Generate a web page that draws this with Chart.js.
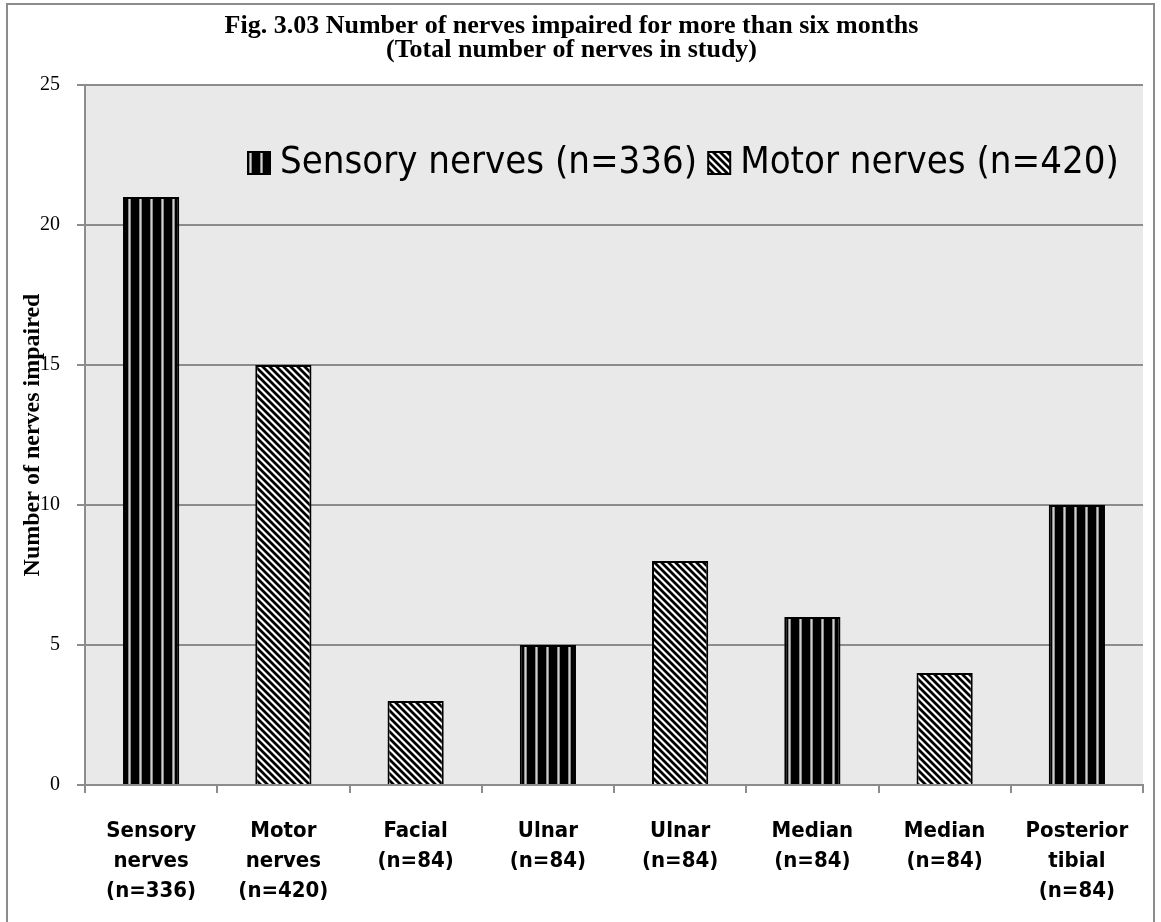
<!DOCTYPE html>
<html>
<head>
<meta charset="utf-8">
<script src="https://cdn.jsdelivr.net/npm/chart.js@4.4.0/dist/chart.umd.min.js"></script>
<style>
  html, body { margin: 0; padding: 0; background: #fff; }
</style>
</head>
<body>
<canvas id="grafico" width="1161" height="922"></canvas>
<script>
// Datos
const categorias = [
  ['Sensory', 'nerves', '(n=336)'],
  ['Motor', 'nerves', '(n=420)'],
  ['Facial', '(n=84)'],
  ['Ulnar', '(n=84)'],
  ['Ulnar', '(n=84)'],
  ['Median', '(n=84)'],
  ['Median', '(n=84)'],
  ['Posterior', 'tibial', '(n=84)']
];
const sensitivos = [21, null, null, 5, null, 6, null, 10];
const motores = [null, 15, 3, null, 8, null, 4, null];
const nombresSeries = ['Sensory nerves (n=336)', 'Motor nerves (n=420)'];
const ticksY = [0, 5, 10, 15, 20, 25];
const titulo = ['Fig. 3.03 Number of nerves impaired for more than six months', '(Total number of nerves in study)'];
const tituloY = 'Number of nerves impaired';

const serif = '"Liberation Serif", "Times New Roman", serif';
const sans = '"DejaVu Sans Condensed", "DejaVu Sans", sans-serif';
const gris = '#8c8c8c';

// Trama de rayas verticales (serie sensitiva)
function patronVertical(ctx) {
  const c = document.createElement('canvas');
  c.width = 11; c.height = 4;
  const g = c.getContext('2d');
  g.fillStyle = '#000'; g.fillRect(0, 0, 11, 4);
  g.fillStyle = '#8a8a8a'; g.fillRect(7, 0, 3, 4);
  g.fillStyle = '#cfcfcf'; g.fillRect(8, 0, 1, 4);
  return ctx.createPattern(c, 'repeat');
}

// Trama diagonal (serie motora)
function patronDiagonal(ctx) {
  const n = 7;
  const c = document.createElement('canvas');
  c.width = n; c.height = n;
  const g = c.getContext('2d');
  const img = g.createImageData(n, n);
  for (let y = 0; y < n; y++) {
    for (let x = 0; x < n; x++) {
      const k = ((x - y) % n + n) % n;
      const v = k < 3 ? 0 : (k === 3 || k === n - 1 ? 140 : 255);
      const i = (y * n + x) * 4;
      img.data[i] = img.data[i + 1] = img.data[i + 2] = v;
      img.data[i + 3] = 255;
    }
  }
  g.putImageData(img, 0, 0);
  return ctx.createPattern(c, 'repeat');
}

// Fondo del área del gráfico y marco exterior
const fondo = {
  id: 'fondo',
  beforeDraw(chart) {
    const { ctx, chartArea: a } = chart;
    ctx.save();
    ctx.fillStyle = '#fff';
    ctx.fillRect(0, 0, chart.width, chart.height);
    ctx.fillStyle = '#e9e9e9';
    ctx.fillRect(a.left, a.top, a.right - a.left, a.bottom - a.top);
    ctx.strokeStyle = gris;
    ctx.lineWidth = 2;
    ctx.strokeRect(7, 4, chart.width - 14, chart.height + 10);
    ctx.restore();
  }
};

// Leyenda dentro del área del gráfico
const leyenda = {
  id: 'leyenda',
  afterDatasetsDraw(chart) {
    const { ctx, chartArea: a } = chart;
    ctx.save();
    ctx.font = '38px ' + sans;
    ctx.textBaseline = 'middle';
    let x = a.left + 163;
    const y = a.top + 78;
    chart.data.datasets.forEach(ds => {
      ctx.fillStyle = ds.backgroundColor;
      ctx.fillRect(x, y - 11, 22, 22);
      ctx.strokeStyle = '#000';
      ctx.lineWidth = 2;
      ctx.strokeRect(x, y - 11, 22, 22);
      ctx.fillStyle = '#000';
      ctx.fillText(ds.label, x + 32, y);
      x += 32 + ctx.measureText(ds.label).width + 11;
    });
    ctx.restore();
  }
};

window.onload = function () {
  const ctx = document.getElementById('grafico').getContext('2d');

  new Chart(ctx, {
    type: 'bar',
    data: {
      labels: categorias,
      datasets: [
        {
          label: nombresSeries[0],
          data: sensitivos,
          backgroundColor: patronVertical(ctx),
          borderColor: '#000',
          borderWidth: 2
        },
        {
          label: nombresSeries[1],
          data: motores,
          backgroundColor: patronDiagonal(ctx),
          borderColor: '#000',
          borderWidth: 2
        }
      ]
    },
    options: {
      responsive: false,
      animation: false,
      devicePixelRatio: 1,
      categoryPercentage: 1,
      barPercentage: 0.425,
      layout: { padding: { left: 0, right: 18, top: 0, bottom: 0 } },
      plugins: {
        legend: { display: false },
        tooltip: { enabled: false },
        title: {
          display: true,
          text: titulo,
          color: '#000',
          font: { family: serif, size: 26, weight: 'bold', lineHeight: '24px' },
          padding: { top: 14, bottom: 23 }
        }
      },
      scales: {
        x: {
          stacked: true,
          offset: true,
          grid: { drawOnChartArea: false, offset: true, tickLength: 8, color: gris, lineWidth: 2 },
          border: { color: gris, width: 2 },
          ticks: {
            color: '#000',
            autoSkip: false,
            maxRotation: 0,
            padding: 23,
            font: { family: sans, size: 22, weight: 'bold', lineHeight: 1.36 }
          },
          afterFit: s => { s.height = 137; }
        },
        y: {
          stacked: true,
          min: ticksY[0],
          max: ticksY[ticksY.length - 1],
          afterBuildTicks: s => { s.ticks = ticksY.map(v => ({ value: v })); },
          grid: { color: gris, lineWidth: 2, tickLength: 8 },
          border: { color: gris, width: 2 },
          ticks: {
            color: '#000',
            padding: 17,
            font: { family: serif, size: 20 }
          },
          title: {
            display: true,
            text: tituloY,
            color: '#000',
            font: { family: serif, size: 24, weight: 'bold', lineHeight: 1.1 },
            padding: { top: 20, bottom: 0 }
          },
          afterFit: s => { s.width = 85; }
        }
      }
    },
    plugins: [fondo, leyenda]
  });
};
</script>
</body>
</html>
